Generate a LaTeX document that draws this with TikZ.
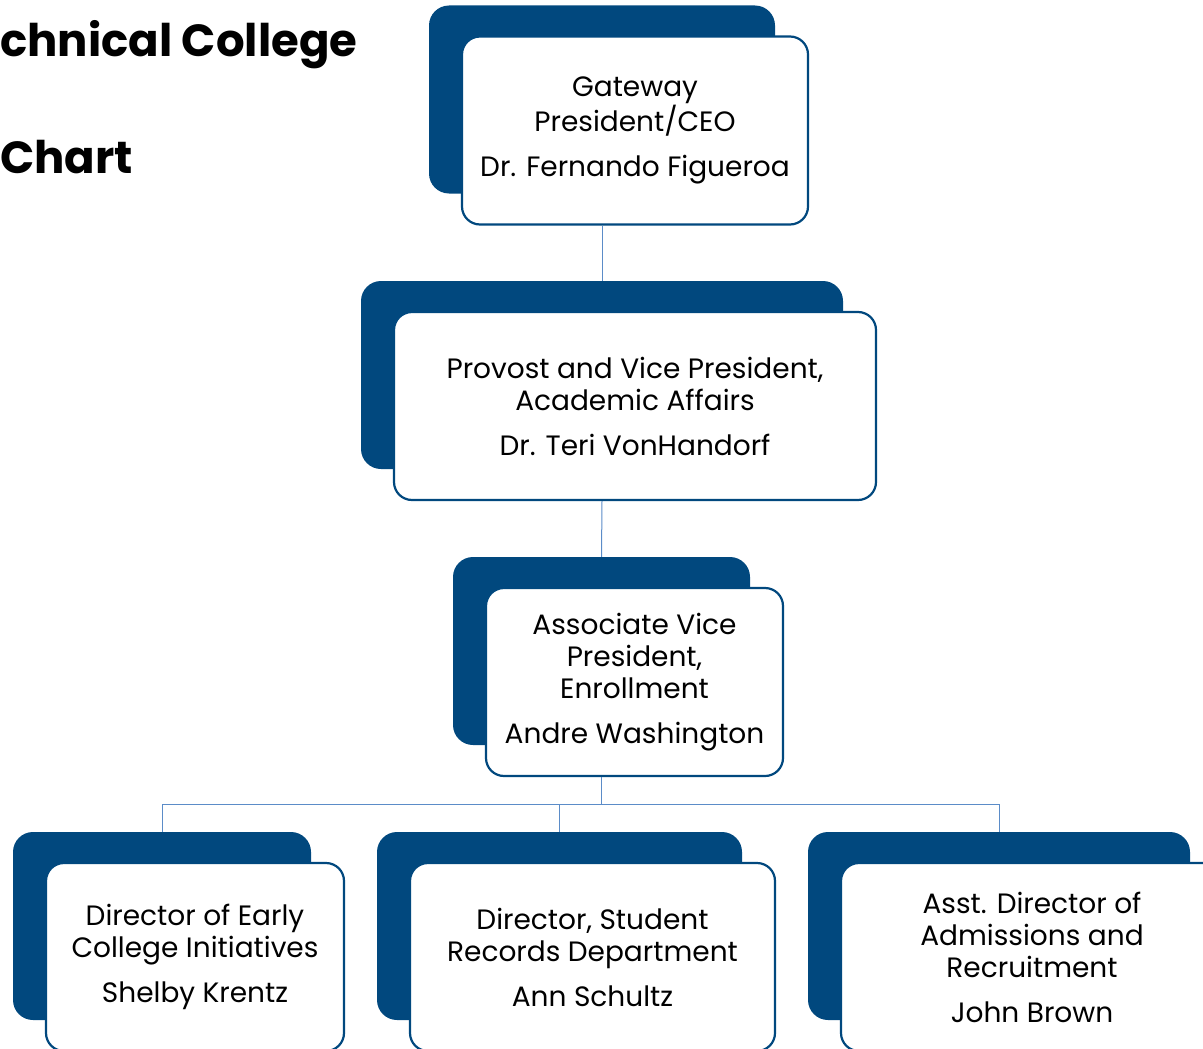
\documentclass[tikz,border=0pt]{standalone}
\usepackage{fontspec}
\setmainfont{Poppins}
\usetikzlibrary{positioning}
\definecolor{chartblue}{HTML}{01487E}
\definecolor{linkblue}{HTML}{5B8CC8}

\begin{document}
\begin{tikzpicture}[x=1pt, y=-1pt,
    backbox/.style={fill=chartblue, rounded corners=20pt, minimum height=188pt},
    frontbox/.style={fill=white, draw=chartblue, line width=2.2pt, rounded corners=18pt,
      minimum height=188pt, align=center, xshift=33pt, yshift=-31pt,
      font=\fontsize{28}{32}\selectfont},
    link/.style={draw=linkblue, line width=1pt}]
  \useasboundingbox (0,0) rectangle (1203,1049);

  % heading, cut off by the page edge
  \node[anchor=base west, inner sep=0pt, font=\fontsize{45}{45}\selectfont\bfseries] (title) at (0,57) {chnical College};
  \node[anchor=base west, inner sep=0pt, font=\fontsize{45}{45}\selectfont\bfseries] (subtitle) at (0,173) {Chart};

  % top level
  \node[backbox, minimum width=346pt] (ceoback) at (602,99.5) {};
  \node[frontbox, minimum width=346pt] (ceo) at (ceoback) {Gateway\\President/CEO\\[13pt]Dr. Fernando Figueroa};

  \node[backbox, minimum width=482pt] (provback) at (602,375) {};
  \node[frontbox, minimum width=482pt] (prov) at (provback) {Provost and Vice President,\\Academic Affairs\\[13pt]Dr. Teri VonHandorf};

  \node[backbox, minimum width=297pt] (avpback) at (601.5,651) {};
  \node[frontbox, minimum width=297pt] (avp) at (avpback) {Associate Vice\\President,\\Enrollment\\[13pt]Andre Washington};

  % bottom row
  \node[backbox, minimum width=298pt] (earlyback) at (162,926) {};
  \node[frontbox, minimum width=298pt] (early) at (earlyback) {Director of Early\\College Initiatives\\[13pt]Shelby Krentz};

  \node[backbox, minimum width=365pt] (recback) at (559.5,926) {};
  \node[frontbox, minimum width=365pt] (rec) at (recback) {Director, Student\\Records Department\\[13pt]Ann Schultz};

  \node[backbox, minimum width=382pt] (admback) at (999,926) {};
  \node[frontbox, minimum width=382pt] (adm) at (admback) {Asst. Director of\\Admissions and\\Recruitment\\[13pt]John Brown};

  % connectors
  \coordinate (bus) at (0,804);
  \draw[link] (ceoback.center |- ceo.south) -- (provback.north);
  \draw[link] (provback.center |- prov.south) -- (avpback.north);
  \draw[link] (avpback.center |- avp.south) -- (avpback.center |- bus);
  \draw[link] (earlyback.north) -- (earlyback.north |- bus) -| (admback.north);
  \draw[link] (recback.north) -- (recback.north |- bus);
\end{tikzpicture}
\end{document}
